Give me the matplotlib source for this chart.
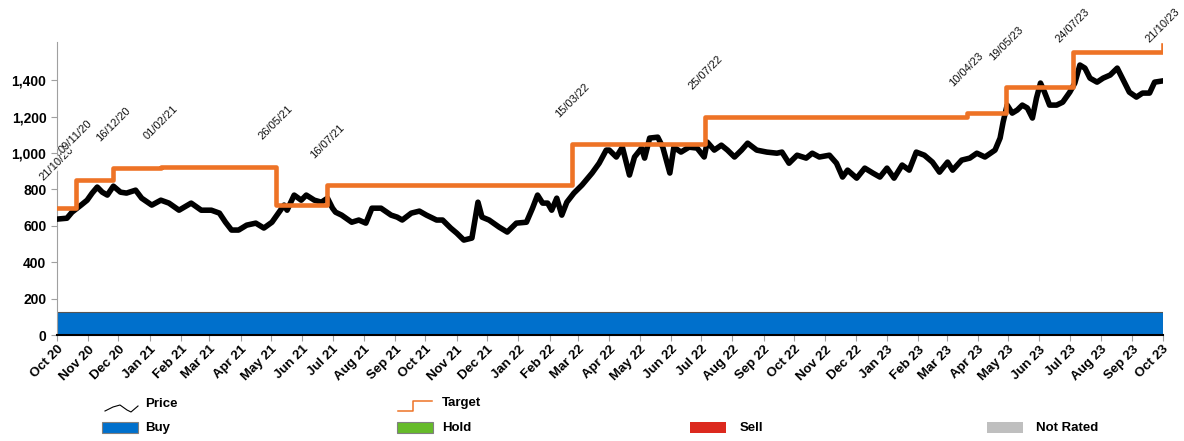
import matplotlib.pyplot as plt
import matplotlib.dates as mdates
from matplotlib.lines import Line2D
from matplotlib.patches import Rectangle
from matplotlib.ticker import FuncFormatter
import pandas as pd

plt.rcParams['font.family'] = ['Liberation Sans', 'DejaVu Sans']

# Price history ----------------------------------------------------------------------
price_dates = [
    '2020-10-21', '2020-10-31', '2020-11-05', '2020-11-14', '2020-11-20', '2020-11-25',
    '2020-11-30', '2020-12-05', '2020-12-10', '2020-12-16', '2020-12-23', '2020-12-29',
    '2021-01-07', '2021-01-13', '2021-01-23', '2021-02-01', '2021-02-09', '2021-02-19',
    '2021-03-03', '2021-03-13', '2021-03-23', '2021-03-31', '2021-04-06', '2021-04-12',
    '2021-04-19', '2021-04-27', '2021-05-06', '2021-05-14', '2021-05-22', '2021-05-27',
    '2021-06-03', '2021-06-06', '2021-06-13', '2021-06-20', '2021-06-25', '2021-07-03',
    '2021-07-10', '2021-07-16', '2021-07-21', '2021-07-24', '2021-07-30', '2021-08-09',
    '2021-08-16', '2021-08-23', '2021-08-29', '2021-09-07', '2021-09-17', '2021-09-23',
    '2021-09-28', '2021-10-07', '2021-10-15', '2021-10-22', '2021-11-01', '2021-11-07',
    '2021-11-15', '2021-11-21', '2021-11-28', '2021-12-06', '2021-12-12', '2021-12-16',
    '2021-12-23', '2022-01-02', '2022-01-10', '2022-01-19', '2022-01-29', '2022-02-04',
    '2022-02-09', '2022-02-14', '2022-02-19', '2022-02-23', '2022-02-28', '2022-03-05',
    '2022-03-10', '2022-03-17', '2022-03-25', '2022-04-04', '2022-04-11', '2022-04-18',
    '2022-04-21', '2022-04-28', '2022-05-04', '2022-05-11', '2022-05-16', '2022-05-23',
    '2022-05-26', '2022-05-31', '2022-06-08', '2022-06-13', '2022-06-20', '2022-06-24',
    '2022-07-01', '2022-07-09', '2022-07-17', '2022-07-24', '2022-07-27', '2022-08-03',
    '2022-08-10', '2022-08-16', '2022-08-23', '2022-08-30', '2022-09-05', '2022-09-14',
    '2022-09-24', '2022-10-04', '2022-10-09', '2022-10-16', '2022-10-24', '2022-11-02',
    '2022-11-08', '2022-11-15', '2022-11-25', '2022-12-02', '2022-12-08', '2022-12-13',
    '2022-12-22', '2022-12-30', '2023-01-07', '2023-01-14', '2023-01-21', '2023-01-28',
    '2023-02-05', '2023-02-12', '2023-02-19', '2023-02-27', '2023-03-07', '2023-03-14',
    '2023-03-22', '2023-03-27', '2023-04-05', '2023-04-13', '2023-04-20', '2023-04-28',
    '2023-05-08', '2023-05-13', '2023-05-16', '2023-05-20', '2023-05-25', '2023-05-30',
    '2023-06-04', '2023-06-09', '2023-06-14', '2023-06-18', '2023-06-22', '2023-06-26',
    '2023-07-01', '2023-07-08', '2023-07-14', '2023-07-21', '2023-07-26', '2023-07-31',
    '2023-08-05', '2023-08-10', '2023-08-17', '2023-08-23', '2023-08-30', '2023-09-06',
    '2023-09-11', '2023-09-18', '2023-09-25', '2023-10-01', '2023-10-08', '2023-10-13',
    '2023-10-20',
]
price_values = [
    637, 642, 675, 714, 741, 780,
    813, 785, 769, 818, 785, 780,
    796, 752, 714, 741, 725, 686,
    725, 686, 686, 670, 620, 577,
    577, 604, 615, 588, 620, 659,
    714, 686, 769, 741, 769, 741,
    730, 752, 697, 675, 659, 620,
    632, 615, 697, 697, 659, 648,
    632, 670, 681, 659, 632, 632,
    588, 560, 522, 533, 730, 648,
    632, 593, 566, 615, 620, 697,
    769, 725, 725, 686, 752, 659,
    730, 780, 824, 890, 944, 1016,
    1016, 978, 1032, 879, 978, 1027,
    972, 1082, 1087, 1032, 890, 1032,
    1005, 1032, 1027, 978, 1060, 1016,
    1043, 1016, 978, 1016, 1054, 1016,
    1005, 999, 1005, 944, 988, 972,
    999, 978, 988, 944, 868, 906,
    862, 917, 890, 868, 917, 862,
    934, 906, 1005, 988, 950, 895,
    950, 906, 961, 972, 999, 978,
    1016, 1082, 1170, 1263, 1219, 1236,
    1263, 1247, 1192, 1301, 1384, 1334,
    1263, 1263, 1279, 1334, 1384, 1483,
    1466, 1411, 1389, 1411, 1428, 1466,
    1411, 1334, 1307, 1329, 1329, 1389,
    1395,
]

# Target price changes
target_dates = ['2020-10-21', '2020-11-09', '2020-12-16', '2021-02-01', '2021-05-26', '2021-07-16',
                '2022-03-15', '2022-07-25', '2023-04-10', '2023-05-19', '2023-07-24', '2023-10-21']
target_values = [700, 850, 915, 925, 715, 825, 1050, 1200, 1220, 1360, 1555, 1595]
target_labels = ['21/10/20', '09/11/20', '16/12/20', '01/02/21', '26/05/21', '16/07/21',
                 '15/03/22', '25/07/22', '10/04/23', '19/05/23', '24/07/23', '21/10/23']

# Rating periods
rating_starts = ['2020-10-21']
rating_ends = ['2023-10-21']
rating_names = ['Buy']

rating_colors = {'Buy': '#0070CC', 'Hold': '#66BB2A', 'Sell': '#DC291E', 'Not Rated': '#BFBFBF'}
orange = '#EE7326'

fig = plt.figure(figsize=(11.84, 4.41), dpi=100)
ax = fig.add_axes([0.048, 0.240, 0.934, 0.665])

start = pd.Timestamp('2020-10-21')
end = pd.Timestamp('2023-10-21')

# rating band along the bottom
for s, e, r in zip(rating_starts, rating_ends, rating_names):
    ax.add_patch(Rectangle((mdates.date2num(pd.Timestamp(s)), 0),
                           mdates.date2num(pd.Timestamp(e)) - mdates.date2num(pd.Timestamp(s)), 128,
                           facecolor=rating_colors[r], edgecolor='#555555', lw=0.8, zorder=1))

ax.plot(pd.to_datetime(price_dates), price_values, color='black', lw=4,
        solid_joinstyle='round', zorder=3)
ax.step(pd.to_datetime(target_dates), target_values, where='post', color=orange, lw=3.3, zorder=4)

# date labels above each target change
for i, (d, lab) in enumerate(zip(target_dates, target_labels)):
    level = target_values[i] if i == 0 else max(target_values[i], target_values[i - 1])
    y = min(level + 240, 1700)
    ax.text(pd.Timestamp(d), y, lab, rotation=45, ha='center', va='center', fontsize=8,
            color='#111111', zorder=5, clip_on=False,
            bbox=dict(facecolor='white', edgecolor='none', pad=0.3, alpha=0.85))

ax.set_xlim(start, end)
ax.set_ylim(0, 1610)
ax.set_yticks(range(0, 1401, 200))
ax.yaxis.set_major_formatter(FuncFormatter(lambda v, p: f'{int(v):,}'))

month_ticks = pd.date_range(start, end, freq=pd.DateOffset(months=1))
ax.set_xticks(month_ticks)
ax.set_xticklabels([t.strftime('%b %y') for t in month_ticks], rotation=45, ha='right',
                   rotation_mode='anchor', fontsize=9.5, fontweight='bold')
for t in ax.get_yticklabels():
    t.set_fontweight('bold')
    t.set_fontsize(10)

ax.spines['top'].set_visible(False)
ax.spines['right'].set_visible(False)
ax.spines['left'].set_color('#A0A0A0')
ax.spines['bottom'].set_color('black')
ax.spines['bottom'].set_linewidth(1.5)
ax.tick_params(axis='both', colors='#A0A0A0', length=4, labelcolor='black')
ax.tick_params(axis='x', pad=2)

# legend below the chart ------------------------------------------------------------------
W, H = 1184, 441

def fx(px):
    return px / W

def fy(py):
    return 1 - py / H

fig.add_artist(Line2D([fx(p) for p in [105, 113, 120, 127, 131, 138]],
                      [fy(p) for p in [411, 407, 405, 410, 412, 406]], color='black', lw=0.8))
fig.text(fx(145), fy(404), 'Price', fontsize=9.5, fontweight='bold', va='center')
fig.add_artist(Line2D([fx(p) for p in [398, 413, 413, 432]],
                      [fy(p) for p in [411, 411, 401, 401]], color=orange, lw=1.1))
fig.text(fx(442), fy(403), 'Target', fontsize=9.5, fontweight='bold', va='center')

legend_items = [('Buy', 102, 145), ('Hold', 397, 442), ('Sell', 690, 740), ('Not Rated', 987, 1036)]
for name, px, tx in legend_items:
    fig.add_artist(Rectangle((fx(px), fy(433)), fx(36), 11 / H, facecolor=rating_colors[name],
                             edgecolor='#808080' if name in ('Buy', 'Hold') else 'none', lw=0.8))
    fig.text(fx(tx), fy(428), name, fontsize=9.5, fontweight='bold', va='center')

fig.savefig('out.png', dpi=100)
